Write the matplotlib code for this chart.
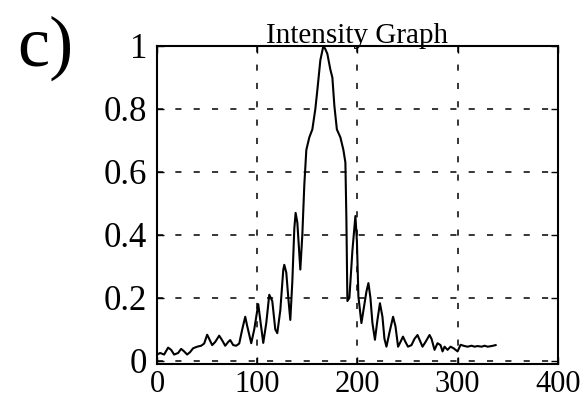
import numpy as np
import matplotlib
matplotlib.use("Agg")
import matplotlib.pyplot as plt

# intensity profile
pos = [0, 3, 7, 11, 14, 17, 21, 24, 27, 30, 33, 36, 40, 44, 47, 50, 52, 55, 58, 62,
       65, 68, 71, 73, 76, 79, 82, 85, 88, 90, 94, 97, 101, 103, 106, 109, 112, 115,
       118, 120, 123, 126, 127, 129, 131, 133, 135, 137, 138.3, 140, 143, 145, 147,
       149, 152, 155, 158, 160, 163, 166, 168, 170, 173, 175, 177, 179.5, 183, 186,
       188, 189, 190, 192, 195, 198, 199.5, 201, 204, 207, 209, 211, 213, 215, 217.5,
       220, 222.5, 225, 227, 229, 232, 235.6, 238, 240.6, 243, 245.5, 248, 250.5,
       254, 257, 260, 263, 265, 268, 272, 274, 277, 280, 283, 285, 287, 290, 293,
       296, 300, 303, 307, 310, 314, 317, 320, 324, 327, 330, 334, 338]
intensity = [0.02, 0.025, 0.02, 0.042, 0.035, 0.02, 0.025, 0.038, 0.03, 0.02, 0.028,
             0.04, 0.045, 0.048, 0.055, 0.083, 0.07, 0.05, 0.06, 0.08, 0.065, 0.048,
             0.06, 0.066, 0.05, 0.048, 0.055, 0.1, 0.14, 0.11, 0.056, 0.1, 0.18, 0.13,
             0.057, 0.12, 0.21, 0.19, 0.1, 0.088, 0.16, 0.29, 0.305, 0.28, 0.2, 0.13,
             0.25, 0.42, 0.47, 0.44, 0.29, 0.4, 0.56, 0.67, 0.71, 0.735, 0.8, 0.86,
             0.955, 1.0, 0.99, 0.975, 0.925, 0.9, 0.81, 0.735, 0.71, 0.67, 0.63, 0.45,
             0.19, 0.2, 0.35, 0.46, 0.38, 0.204, 0.12, 0.18, 0.22, 0.247, 0.2, 0.12,
             0.067, 0.13, 0.183, 0.14, 0.07, 0.045, 0.09, 0.14, 0.11, 0.045, 0.06,
             0.077, 0.06, 0.045, 0.05, 0.07, 0.082, 0.06, 0.045, 0.06, 0.082, 0.07,
             0.035, 0.056, 0.05, 0.03, 0.045, 0.035, 0.045, 0.04, 0.03, 0.051, 0.047,
             0.045, 0.048, 0.045, 0.047, 0.045, 0.048, 0.045, 0.047, 0.05]

xticks = [0, 100, 200, 300, 400]
yticks = [0, 0.2, 0.4, 0.6, 0.8, 1]
ylabels = ["0", "0.2", "0.4", "0.6", "0.8", "1"]

plt.rcParams['font.family'] = ['Liberation Serif', 'DejaVu Serif']

fig = plt.figure(figsize=(5.84, 4.0), dpi=100)
ax = fig.add_axes([0.269, 0.09, 0.686, 0.795])

ax.plot(pos, intensity, color='black', lw=1.5)

ax.set_xlim(0, 400)
ax.set_ylim(-0.01, 1)
ax.set_xticks(xticks)
ax.set_xticklabels([str(t) for t in xticks])
ax.set_yticks(yticks)
ax.set_yticklabels(ylabels)
ax.tick_params(direction='in', length=5, width=1, top=True, right=True)
ax.tick_params(axis='y', pad=7, labelsize=25)
ax.tick_params(axis='x', pad=4, labelsize=22)
ax.grid(True, color='black', linestyle=(0, (4, 8)), linewidth=1.1)
for s in ax.spines.values():
    s.set_linewidth(1.5)

ax.set_title("Intensity Graph", fontsize=21, pad=2)
fig.text(0.077, 0.88, "c)", fontsize=52, ha='center', va='center')

fig.savefig("out.png", dpi=100)
